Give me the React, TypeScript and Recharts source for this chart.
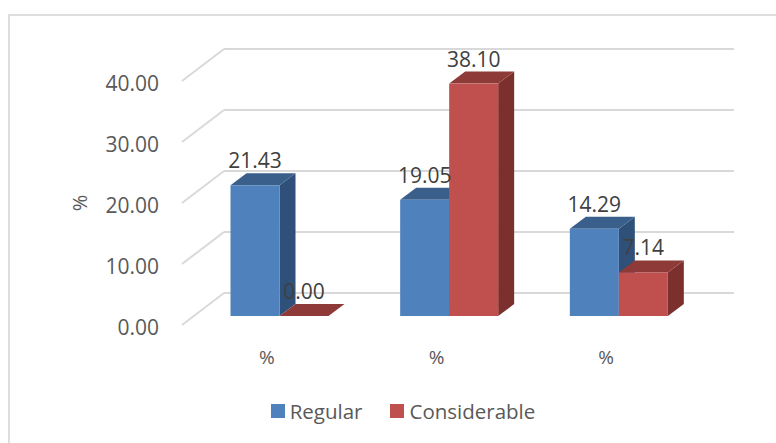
import React from 'react';
import { ComposedChart, Bar, XAxis, YAxis, CartesianGrid, Legend, LabelList } from 'recharts';

const categories = ['%', '%', '%'];
const regular = [21.43, 19.05, 14.29];
const considerable = [0.0, 38.1, 7.14];
const yTicks = [0, 10, 20, 30, 40];
const data = categories.map((c, i) => ({ cat: c, Regular: regular[i], Considerable: considerable[i] }));

const FONT = '"Open Sans", sans-serif';
const TXT = '#595959';
const BAR_DX = 12.5, BAR_DY = 9, DEPTH_X = 16, DEPTH_Y = 12, BACK_X = 42, BACK_Y = 32, BACK_LEN = 510;

const bar3D = (front: string, top: string, side: string) => (p: any) => {
  const x = p.x + BAR_DX, y = p.y - BAR_DY, w = p.width, h = p.height;
  return (
    <g>
      <polygon points={`${x + w},${y} ${x + w + DEPTH_X},${y - DEPTH_Y} ${x + w + DEPTH_X},${y + h - DEPTH_Y} ${x + w},${y + h}`} fill={side} />
      <polygon points={`${x},${y} ${x + DEPTH_X},${y - DEPTH_Y} ${x + w + DEPTH_X},${y - DEPTH_Y} ${x + w},${y}`} fill={top} />
      <rect x={x} y={y} width={w} height={h} fill={front} />
    </g>
  );
};

const gridLine = (p: any) => (
  <g key={p.key ?? p.y1}>
    <line x1={p.x1} y1={p.y1} x2={p.x1 + BACK_X} y2={p.y1 - BACK_Y} stroke="#D9D9D9" strokeWidth={2} />
    <line x1={p.x1 + BACK_X} y1={p.y1 - BACK_Y} x2={p.x1 + BACK_X + BACK_LEN} y2={p.y1 - BACK_Y} stroke="#D9D9D9" strokeWidth={2} />
  </g>
);

const valueLabel = (p: any) => (
  <text x={p.x + p.width / 2 + BAR_DX} y={p.y - BAR_DY - 25} textAnchor="middle" dominantBaseline="central" fontFamily={FONT} fontSize={21} fill="#404040">
    {Number(p.value).toFixed(2)}
  </text>
);

const legendContent = (p: any) => (
  <div style={{ display: 'flex', justifyContent: 'center', alignItems: 'center', fontFamily: FONT, fontSize: 20.5, color: TXT, lineHeight: '28px', height: 28 }}>
    {p.payload.map((e: any) => (
      <span key={e.value} style={{ display: 'inline-flex', alignItems: 'center', margin: '0 14px' }}>
        <span style={{ width: 14, height: 14, background: e.color, marginRight: 5 }} />
        {e.value}
      </span>
    ))}
  </div>
);

export default function App() {
  return (
    <div style={{ position: 'absolute', left: 0, top: 0, width: 776, height: 443, background: '#fff', overflow: 'hidden' }}>
      <div style={{ position: 'absolute', left: 8, top: 14, width: 780, height: 440, border: '2px solid #DDDDDD', boxSizing: 'border-box' }} />
      <ComposedChart width={776} height={443} data={data} barSize={49} barGap={0}
        margin={{ left: 82, right: 85, top: 81, bottom: 60 }} style={{ position: 'absolute', left: 0, top: 0 }}>
        <CartesianGrid vertical={false} horizontal={gridLine as any} />
        <XAxis dataKey="cat" height={30} axisLine={false} tickLine={false} tick={{ fontFamily: FONT, fontSize: 19, fill: TXT }} tickMargin={20} />
        <YAxis domain={[0, 40]} ticks={yTicks} width={100} axisLine={false} tickLine={false} tickMargin={17}
          tickFormatter={(v: number) => v.toFixed(2)} tick={{ fontFamily: FONT, fontSize: 21, fill: TXT, dy: 3 }}
          label={{ value: '%', angle: -90, position: 'insideLeft', offset: -2, textAnchor: 'middle', fontFamily: FONT, fontSize: 20, fill: TXT }} />
        <Legend content={legendContent} itemSorter={null as any} wrapperStyle={{ left: 0, width: 806, top: 397 }} />
        <Bar dataKey="Regular" fill="#4F81BD" isAnimationActive={false} shape={bar3D('#4F81BD', '#3A5F8B', '#2F5078')}>
          <LabelList dataKey="Regular" content={valueLabel} />
        </Bar>
        <Bar dataKey="Considerable" fill="#C0504D" isAnimationActive={false} shape={bar3D('#C0504D', '#8E3A38', '#7B302E')}>
          <LabelList dataKey="Considerable" content={valueLabel} />
        </Bar>
      </ComposedChart>
    </div>
  );
}
